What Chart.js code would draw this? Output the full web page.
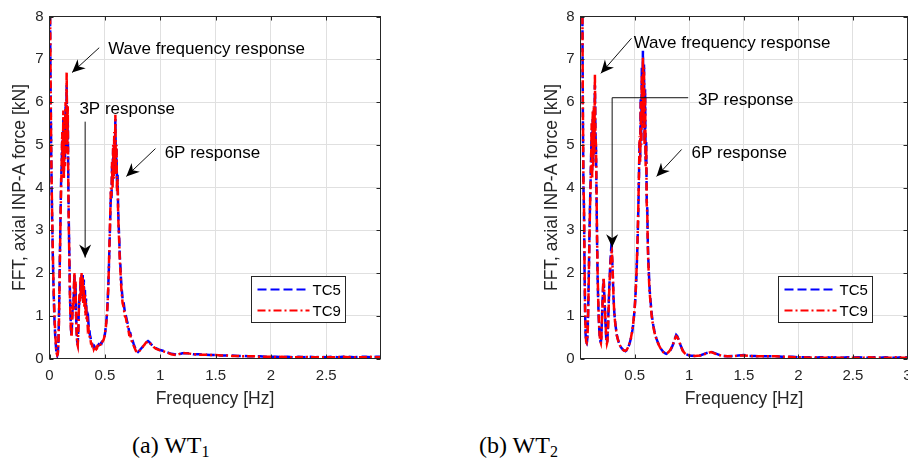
<!DOCTYPE html>
<html><head><meta charset="utf-8">
<script src="https://cdn.jsdelivr.net/npm/chart.js@4.4.1/dist/chart.umd.min.js"></script>
<style>
html,body{margin:0;padding:0;background:#fff;width:908px;height:472px;overflow:hidden;position:relative}
canvas{position:absolute;top:0}
#c1{left:0}
#c2{left:454px}
.cap{position:absolute;top:432px;font-family:"Liberation Serif","DejaVu Serif",serif;font-size:24px;color:#000;white-space:nowrap;line-height:26px}
.cap sub{font-size:16px;vertical-align:baseline;position:relative;top:4px}
</style></head><body>
<canvas id="c1" width="454" height="420"></canvas>
<canvas id="c2" width="470" height="420"></canvas>
<div class="cap" style="left:132px">(a) WT<sub>1</sub></div>
<div class="cap" style="left:479px">(b) WT<sub>2</sub></div>
<script>
const freq = [
0,0.005,0.01,0.015,0.02,0.025,0.03,0.035,0.04,0.045,
0.05,0.055,0.06,0.065,0.07,0.075,0.08,0.085,0.09,0.095,
0.1,0.105,0.11,0.115,0.12,0.125,0.13,0.135,0.14,0.145,
0.15,0.155,0.16,0.165,0.17,0.175,0.18,0.185,0.19,0.195,
0.2,0.205,0.21,0.215,0.22,0.225,0.23,0.235,0.24,0.245,
0.25,0.255,0.26,0.265,0.27,0.275,0.28,0.285,0.29,0.295,
0.3,0.305,0.31,0.315,0.32,0.325,0.33,0.335,0.34,0.345,
0.35,0.355,0.36,0.365,0.37,0.375,0.38,0.385,0.39,0.395,
0.4,0.405,0.41,0.415,0.42,0.425,0.43,0.435,0.44,0.445,
0.45,0.455,0.46,0.465,0.47,0.475,0.48,0.485,0.49,0.495,
0.5,0.505,0.51,0.515,0.52,0.525,0.53,0.535,0.54,0.545,
0.55,0.555,0.56,0.565,0.57,0.575,0.58,0.585,0.59,0.595,
0.6,0.605,0.61,0.615,0.62,0.625,0.63,0.635,0.64,0.645,
0.65,0.655,0.66,
0.67,0.68,0.69,0.7,0.71,0.72,0.73,0.74,0.75,0.76,
0.77,0.78,0.79,0.8,0.81,0.82,0.83,0.84,0.85,0.86,
0.87,0.88,0.89,0.9,0.91,0.92,0.93,0.94,0.95,0.96,
0.97,0.98,0.99,1.0,
1.05,1.1,1.15,1.2,1.25,1.3,1.35,1.4,1.45,1.5,
1.55,1.6,1.65,1.7,1.75,1.8,1.85,1.9,1.95,2.0,
2.05,2.1,2.15,2.2,2.25,2.3,2.35,2.4,2.45,2.5,
2.55,2.6,2.65,2.7,2.75,2.8,2.85,2.9,2.95,3.0
];

const wt1Tc5 = [
9.5,8.0,6.3,4.9,3.9,3.1,2.4,1.8,1.3,0.9,
0.6,0.4,0.22,0.1,0.07,0.12,0.35,0.9,1.7,2.6,
3.4,4.2,4.5,5.1,4.6,5.6,4.4,5.4,4.7,5.9,
4.9,6.4,5.1,5.6,4.1,3.1,2.3,1.5,1.0,0.65,
0.55,0.95,1.25,1.15,1.55,1.95,1.45,1.75,1.05,0.65,
0.4,0.35,0.65,1.15,1.45,1.35,1.8,1.5,1.95,1.6,
1.95,1.45,1.85,1.3,1.6,1.15,1.4,1.0,1.1,0.85,
0.9,0.7,0.7,0.55,0.5,0.42,0.4,0.35,0.3,0.3,
0.26,0.28,0.24,0.25,0.24,0.27,0.26,0.3,0.31,0.33,
0.32,0.33,0.34,0.36,0.35,0.39,0.41,0.43,0.46,0.5,
0.56,0.66,0.77,0.92,1.08,1.32,1.62,2.0,2.45,2.9,
3.4,3.9,3.7,4.5,4.1,4.9,4.3,5.2,4.6,5.6,
4.4,4.9,4.0,4.3,3.5,3.1,2.8,2.4,2.2,1.9,
1.7,1.55,1.4,
1.3,1.1,1.0,0.88,0.78,0.62,0.6,0.48,0.42,0.34,
0.27,0.2,0.16,0.15,0.18,0.21,0.24,0.27,0.31,0.34,
0.36,0.39,0.41,0.39,0.36,0.33,0.31,0.28,0.26,0.24,
0.23,0.22,0.2,0.2,
0.16,0.11,0.09,0.12,0.12,0.1,0.1,0.09,0.08,0.08,
0.07,0.07,0.07,0.06,0.06,0.05,0.05,0.05,0.04,0.04,
0.04,0.03,0.04,0.03,0.04,0.03,0.04,0.03,0.04,0.03,
0.04,0.03,0.04,0.04,0.03,0.04,0.04,0.03,0.04,0.04
];

const wt1Tc9 = [
9.5,8.2,6.5,5.0,4.0,3.2,2.5,1.9,1.4,1.0,
0.7,0.45,0.25,0.12,0.08,0.1,0.3,0.8,1.6,2.5,
3.3,4.0,4.6,5.3,4.4,5.8,4.2,5.6,4.5,6.0,
4.8,6.7,5.0,5.9,4.0,3.0,2.2,1.4,0.9,0.6,
0.5,0.9,1.3,1.1,1.6,2.0,1.5,1.8,1.0,0.6,
0.35,0.3,0.6,1.1,1.5,1.3,1.9,1.4,2.0,1.5,
1.9,1.3,1.7,1.2,1.5,1.0,1.3,0.9,1.0,0.75,
0.8,0.6,0.6,0.45,0.45,0.35,0.35,0.3,0.25,0.28,
0.22,0.25,0.2,0.23,0.22,0.26,0.25,0.3,0.3,0.33,
0.3,0.32,0.32,0.35,0.33,0.38,0.4,0.42,0.45,0.5,
0.55,0.65,0.75,0.9,1.05,1.3,1.6,2.0,2.5,3.0,
3.5,4.0,3.8,4.6,4.0,5.0,4.2,5.3,4.5,5.7,
4.3,5.0,3.9,4.2,3.4,3.0,2.7,2.3,2.1,1.8,
1.6,1.45,1.3,
1.2,1.0,0.95,0.8,0.72,0.55,0.55,0.42,0.38,0.3,
0.24,0.18,0.15,0.14,0.17,0.2,0.23,0.26,0.3,0.33,
0.37,0.38,0.4,0.38,0.35,0.32,0.3,0.27,0.25,0.23,
0.22,0.21,0.2,0.19,
0.15,0.1,0.08,0.13,0.12,0.1,0.09,0.09,0.08,0.08,
0.07,0.07,0.06,0.06,0.05,0.05,0.05,0.04,0.04,0.04,
0.03,0.04,0.03,0.03,0.03,0.04,0.03,0.03,0.03,0.03,
0.03,0.03,0.04,0.03,0.03,0.03,0.03,0.04,0.03,0.03
];

const wt2Tc5 = [
9.5,9.1,8.8,8.5,8.2,5.6,4.0,3.5,2.1,1.1,
0.55,0.38,0.36,0.45,0.75,1.35,2.1,2.9,3.6,4.1,
4.7,5.3,4.4,5.6,4.6,5.8,4.9,6.4,5.3,4.9,
3.8,2.7,1.9,1.35,0.95,0.68,0.48,0.4,0.38,0.55,
0.95,1.35,1.65,1.85,1.55,1.25,0.95,0.65,0.42,0.36,
0.45,0.75,1.15,1.55,1.85,2.2,2.4,2.6,2.55,2.2,
1.85,1.45,1.2,1.0,0.88,0.76,0.66,0.57,0.5,0.46,
0.41,0.37,0.34,0.31,0.28,0.26,0.24,0.23,0.21,0.2,
0.19,0.18,0.18,0.17,0.18,0.19,0.21,0.23,0.26,0.29,
0.33,0.37,0.42,0.47,0.53,0.6,0.68,0.78,0.9,1.03,
1.18,1.38,1.62,1.9,2.25,2.65,3.15,3.75,4.4,5.1,
4.7,6.1,5.1,6.8,5.5,7.2,5.8,6.9,5.1,6.3,
4.6,5.1,3.7,3.5,2.7,2.3,2.0,1.7,1.5,1.35,
1.2,1.05,0.95,
0.78,0.65,0.54,0.46,0.39,0.33,0.27,0.23,0.19,0.16,
0.14,0.12,0.11,0.12,0.14,0.17,0.21,0.26,0.32,0.4,
0.48,0.55,0.52,0.46,0.39,0.31,0.25,0.19,0.15,0.12,
0.1,0.09,0.08,0.07,
0.06,0.07,0.12,0.16,0.11,0.06,0.05,0.06,0.07,0.08,
0.06,0.06,0.05,0.05,0.05,0.05,0.04,0.04,0.04,0.03,
0.03,0.03,0.02,0.03,0.03,0.02,0.03,0.02,0.03,0.02,
0.03,0.02,0.02,0.03,0.02,0.03,0.02,0.02,0.03,0.03
];

const wt2Tc9 = [
9.5,9.2,8.9,8.6,8.3,5.8,4.1,3.6,2.2,1.2,
0.6,0.4,0.37,0.42,0.7,1.3,2.0,2.8,3.5,4.0,
4.6,5.5,4.2,5.8,4.5,5.9,4.8,6.65,5.2,5.0,
3.9,2.8,2.0,1.4,1.0,0.7,0.5,0.4,0.36,0.5,
0.9,1.3,1.7,1.9,1.6,1.3,1.0,0.7,0.45,0.35,
0.4,0.7,1.1,1.5,1.8,2.1,2.3,2.45,2.5,2.3,
1.9,1.5,1.2,1.0,0.85,0.75,0.65,0.55,0.5,0.45,
0.4,0.36,0.33,0.3,0.28,0.26,0.24,0.22,0.21,0.2,
0.19,0.19,0.18,0.18,0.19,0.2,0.22,0.24,0.27,0.3,
0.34,0.38,0.43,0.48,0.55,0.62,0.7,0.8,0.92,1.05,
1.2,1.4,1.65,1.95,2.3,2.7,3.2,3.8,4.5,5.2,
4.6,6.0,5.0,6.6,5.4,7.05,5.6,6.8,5.0,6.2,
4.5,5.0,3.6,3.4,2.6,2.2,1.9,1.6,1.45,1.3,
1.15,1.0,0.9,
0.75,0.62,0.52,0.45,0.38,0.32,0.27,0.22,0.18,0.15,
0.13,0.12,0.12,0.13,0.15,0.18,0.22,0.27,0.33,0.4,
0.47,0.52,0.5,0.45,0.38,0.3,0.24,0.18,0.15,0.12,
0.1,0.09,0.08,0.08,
0.06,0.07,0.11,0.15,0.1,0.06,0.05,0.05,0.07,0.07,
0.06,0.05,0.05,0.05,0.05,0.05,0.04,0.04,0.03,0.03,
0.03,0.02,0.03,0.02,0.02,0.03,0.02,0.02,0.02,0.02,
0.02,0.02,0.03,0.02,0.02,0.02,0.02,0.03,0.02,0.02
];

const seriesNames = ['TC5', 'TC9'];
const xTicksWT1 = [0, 0.5, 1, 1.5, 2, 2.5];
const xTicksWT2 = [0.5, 1, 1.5, 2, 2.5, 3];
const yTicks = [0, 1, 2, 3, 4, 5, 6, 7, 8];
const xTitle = 'Frequency [Hz]';
const yTitle = 'FFT, axial INP-A force [kN]';

const notesWT1 = [
  {text: 'Wave frequency response', tx: 0.53, ty: 7.23, path: [[0.449, 7.27], [0.204, 6.69]]},
  {text: '3P response', tx: 0.27, ty: 5.83, path: [[0.322, 5.54], [0.322, 2.36]]},
  {text: '6P response', tx: 1.04, ty: 4.80, path: [[0.957, 4.91], [0.694, 4.26]]}
];
const notesWT2 = [
  {text: 'Wave frequency response', tx: 0.49, ty: 7.37, path: [[0.47, 7.49], [0.19, 6.67]]},
  {text: '3P response', tx: 1.08, ty: 6.04, path: [[0.99, 6.1], [0.293, 6.1], [0.293, 2.6]]},
  {text: '6P response', tx: 1.02, ty: 4.80, path: [[0.93, 4.89], [0.70, 4.26]]}
];

const FONT = '"Liberation Sans", Arial, Helvetica, sans-serif';
const AXC = '#262626';

const framePlugin = {
  id: 'frame',
  afterDatasetsDraw(chart, args, opts) {
    const {ctx, chartArea: a, scales: {x, y}} = chart;
    ctx.save();
    ctx.strokeStyle = AXC; ctx.lineWidth = 1;
    const tl = 4;
    ctx.beginPath();
    x.ticks.forEach(t => {
      const px = Math.round(x.getPixelForValue(t.value)) + 0.5;
      ctx.moveTo(px, a.bottom); ctx.lineTo(px, a.bottom - tl);
      ctx.moveTo(px, a.top); ctx.lineTo(px, a.top + tl);
    });
    y.ticks.forEach(t => {
      const py = Math.round(y.getPixelForValue(t.value)) + 0.5;
      ctx.moveTo(a.left, py); ctx.lineTo(a.left + tl, py);
      ctx.moveTo(a.right, py); ctx.lineTo(a.right - tl, py);
    });
    ctx.stroke();
    ctx.strokeRect(a.left, a.top, a.width, a.height);

    ctx.font = '17px ' + FONT;
    ctx.fillStyle = '#000';
    ctx.textBaseline = 'middle';
    ctx.textAlign = 'left';
    (opts.notes || []).forEach(n => {
      ctx.fillStyle = '#000';
      ctx.fillText(n.text, x.getPixelForValue(n.tx), y.getPixelForValue(n.ty));
      const pts = n.path.map(p => [x.getPixelForValue(p[0]), y.getPixelForValue(p[1])]);
      ctx.strokeStyle = '#111'; ctx.lineWidth = 1;
      ctx.beginPath();
      ctx.moveTo(pts[0][0], pts[0][1]);
      for (let i = 1; i < pts.length; i++) ctx.lineTo(pts[i][0], pts[i][1]);
      ctx.stroke();
      const p0 = pts[pts.length - 2], p1 = pts[pts.length - 1];
      const ang = Math.atan2(p1[1] - p0[1], p1[0] - p0[0]);
      const dx = Math.cos(ang), dy = Math.sin(ang);
      const L = 13, W = 6, N = 9;
      ctx.beginPath();
      ctx.moveTo(p1[0], p1[1]);
      ctx.lineTo(p1[0] - L * dx - W * dy, p1[1] - L * dy + W * dx);
      ctx.lineTo(p1[0] - N * dx, p1[1] - N * dy);
      ctx.lineTo(p1[0] - L * dx + W * dy, p1[1] - L * dy - W * dx);
      ctx.closePath();
      ctx.fill();
    });

    const bw = 94, bh = 46;
    const bx = Math.round(a.right - 36 - bw) + 0.5, by = Math.round(a.bottom - 37 - bh) + 0.5;
    ctx.fillStyle = '#fff';
    ctx.fillRect(bx, by, bw, bh);
    ctx.strokeStyle = AXC; ctx.lineWidth = 1;
    ctx.strokeRect(bx, by, bw, bh);
    ctx.font = '15px ' + FONT;
    chart.data.datasets.forEach((ds, i) => {
      const yy = by + 13 + 21 * i;
      ctx.save();
      ctx.strokeStyle = ds.borderColor; ctx.lineWidth = 2;
      ctx.setLineDash(ds.borderDash);
      ctx.beginPath(); ctx.moveTo(bx + 6, yy); ctx.lineTo(bx + 58, yy); ctx.stroke();
      ctx.restore();
      ctx.fillStyle = '#000';
      ctx.textBaseline = 'middle';
      ctx.fillText(ds.label, bx + 61, yy + 1);
    });
    ctx.restore();
  }
};

function makeChart(id, tc5, tc9, xMin, xMax, xTicks, yWidth, yTitlePad, padRight, notes) {
  return new Chart(document.getElementById(id), {
    type: 'line',
    data: {
      datasets: [
        {label: seriesNames[0], data: freq.map((f, i) => ({x: f, y: tc5[i]})),
         borderColor: '#0000ff', borderWidth: 2.5, borderDash: [9, 4], pointRadius: 0, order: 1, clip: 0, tension: 0},
        {label: seriesNames[1], data: freq.map((f, i) => ({x: f, y: tc9[i]})),
         borderColor: '#ff0000', borderWidth: 2.5, borderDash: [8, 3, 2, 3], pointRadius: 0, order: 0, clip: 0, tension: 0}
      ]
    },
    options: {
      responsive: false, animation: false, devicePixelRatio: 1,
      layout: {padding: {top: 16.5, right: padRight, bottom: 0, left: 0}},
      plugins: {legend: {display: false}, tooltip: {enabled: false}, frame: {notes: notes}},
      scales: {
        x: {
          type: 'linear', min: xMin, max: xMax,
          afterBuildTicks: s => { s.ticks = xTicks.map(v => ({value: v})); },
          afterFit: s => { s.height = 61.5; },
          grid: {color: '#e0e0e0', drawTicks: false, lineWidth: 1},
          border: {display: false},
          ticks: {padding: 8, color: AXC, font: {family: FONT, size: 15}, autoSkip: false, maxRotation: 0,
                  callback: v => String(v)},
          title: {display: true, text: xTitle, color: AXC, font: {family: FONT, size: 17.5}, padding: {top: 0, bottom: 10.5}}
        },
        y: {
          type: 'linear', min: 0, max: 8,
          afterBuildTicks: s => { s.ticks = yTicks.map(v => ({value: v})); },
          afterFit: s => { s.width = yWidth; },
          grid: {color: '#e0e0e0', drawTicks: false, lineWidth: 1},
          border: {display: false},
          ticks: {padding: 6, color: AXC, font: {family: FONT, size: 15}, autoSkip: false,
                  callback: v => String(v)},
          title: {display: true, text: yTitle, color: AXC, font: {family: FONT, size: 17.5}, padding: {top: yTitlePad, bottom: 0}}
        }
      }
    },
    plugins: [framePlugin]
  });
}

makeChart('c1', wt1Tc5, wt1Tc9, 0, 2.99, xTicksWT1, 49.5, 10, 73.5, notesWT1);
makeChart('c2', wt2Tc5, wt2Tc9, 0.003, 3, xTicksWT2, 126.5, 87.5, 16.5, notesWT2);
</script>
</body></html>
